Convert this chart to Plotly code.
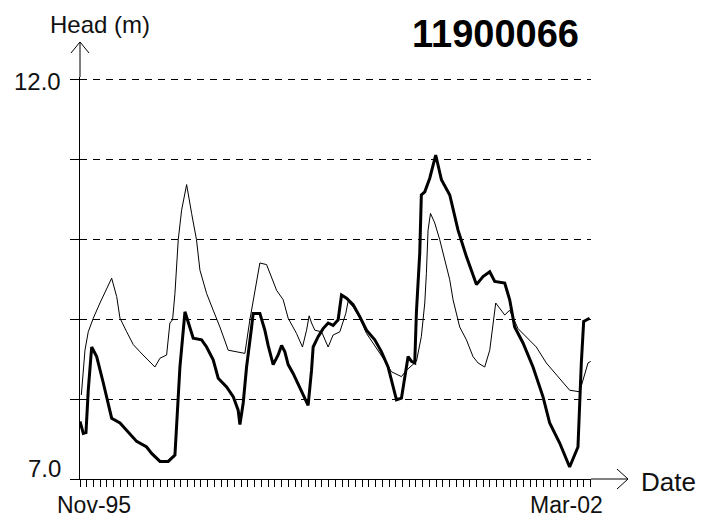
import plotly.graph_objects as go

# ---- data (x = months since Nov-1995) ----
OBS_MONTHS = [0, 0.49, 0.89, 1.23, 1.74, 2.48, 3.47, 4.71, 5.95, 7.18, 8.43, 9.92, 10.66, 11.90,
              13.13, 14.13, 14.38, 14.87, 15.62, 16.11, 16.85, 18.10, 18.84, 19.82, 20.57, 21.82,
              22.80, 23.54, 23.80, 24.29, 24.79, 25.54, 25.77, 26.77, 27.51, 28.00, 28.75, 29.49,
              30.00, 30.49, 30.98, 31.72, 32.72, 33.72, 33.95, 34.46, 34.70, 35.44, 36.18, 36.93,
              37.67, 38.42, 38.92, 39.67, 40.65, 41.64, 42.64, 43.87, 44.87, 45.85, 46.59, 47.10,
              47.84, 48.33, 48.83, 49.33, 49.82, 50.07, 50.56, 50.80, 51.31, 52.05, 52.94, 53.79,
              55.03, 56.26, 57.51, 59.00, 59.98, 60.98, 61.72, 63.21, 63.95, 64.69, 65.93, 67.42,
              68.90, 69.90, 71.39, 72.87, 74.11, 74.61, 74.96, 75.85]
OBS_HEAD = [7.72, 7.57, 7.58, 8.11, 8.65, 8.53, 8.20, 7.76, 7.70, 7.59, 7.47, 7.40, 7.32, 7.22,
            7.22, 7.30, 7.70, 8.40, 9.09, 8.95, 8.76, 8.74, 8.65, 8.49, 8.26, 8.15,
            8.03, 7.86, 7.68, 7.95, 8.40, 8.90, 9.07, 9.07, 8.86, 8.67, 8.43, 8.55,
            8.67, 8.59, 8.43, 8.32, 8.15, 7.97, 7.92, 8.36, 8.65, 8.78, 8.88, 8.95,
            8.92, 8.99, 9.30, 9.26, 9.18, 9.03, 8.86, 8.74, 8.59, 8.40, 8.15, 7.99,
            8.01, 8.28, 8.53, 8.47, 8.45, 9.09, 9.82, 10.55, 10.59, 10.76, 11.05, 10.74,
            10.55, 10.11, 9.78, 9.43, 9.53, 9.59, 9.47, 9.45, 9.24, 8.90, 8.70, 8.40,
            8.03, 7.70, 7.45, 7.15, 7.40, 8.45, 8.97, 9.01]

SIM_MONTHS = [0.2, 0.74, 1.23, 1.98, 2.97, 3.97, 4.71, 5.46, 5.95, 6.95, 7.93, 8.92, 9.92, 11.15,
              11.90, 12.89, 13.38, 13.78, 14.13, 14.62, 15.12, 15.87, 16.61, 17.34, 17.85, 18.84,
              19.82, 20.82, 22.06, 23.30, 24.54, 25.28, 26.03, 26.77, 27.77, 28.51, 29.25, 30.24,
              30.98, 32.22, 33.11, 33.72, 34.10, 34.46, 34.95, 35.95, 36.93, 37.67, 38.67, 39.56,
              39.90, 40.65, 41.64, 42.64, 43.87, 45.11, 46.36, 47.84, 48.59, 50.07, 50.80, 51.31,
              51.55, 51.80, 52.16, 52.80, 53.54, 54.28, 55.03, 55.52, 56.51, 57.51, 58.49, 59.24,
              60.23, 60.98, 61.47, 61.87, 63.21, 63.95, 65.19, 66.42, 67.91, 69.40, 71.39, 72.87,
              74.36, 74.96, 75.60, 76.0]
SIM_HEAD = [8.05, 8.61, 8.84, 9.01, 9.20, 9.38, 9.51, 9.28, 9.01, 8.84, 8.68, 8.59, 8.51, 8.40,
            8.51, 8.55, 8.95, 8.99, 9.32, 9.99, 10.36, 10.68, 10.32, 9.99, 9.61, 9.32,
            9.11, 8.90, 8.61, 8.59, 8.57, 8.99, 9.36, 9.70, 9.68, 9.53, 9.36, 9.24,
            9.01, 8.82, 8.65, 8.86, 9.04, 8.95, 8.86, 8.84, 8.65, 8.80, 8.84, 9.07,
            9.22, 9.15, 9.01, 8.82, 8.67, 8.51, 8.34, 8.28, 8.36, 8.47, 8.78, 9.20,
            9.57, 10.11, 10.32, 10.20, 9.99, 9.74, 9.49, 9.24, 8.90, 8.74, 8.53, 8.45,
            8.40, 8.61, 8.95, 9.20, 9.05, 9.11, 8.88, 8.78, 8.65, 8.45, 8.26, 8.11,
            8.09, 8.28, 8.45, 8.47]

X_TICK_VALS = [0, 76]
X_TICK_TEXT = ["Nov-95", "Mar-02"]
Y_TICK_VALS = [7, 12]
Y_TICK_TEXT = ["7.0", "12.0"]
Y_GRID_VALS = [7, 8, 9, 10, 11, 12]
MONTH_TICKS = list(range(X_TICK_VALS[0], X_TICK_VALS[-1] + 1))
TITLE = "11900066"
Y_LABEL = "Head (m)"
X_LABEL = "Date"

FONT = "Liberation Sans, Arial, sans-serif"
INK = "#111111"
PX_PER_MONTH = 511 / 76.05
PX_PER_M = 80.0

fig = go.Figure()
fig.add_trace(go.Scatter(x=SIM_MONTHS, y=SIM_HEAD, mode="lines",
                         line=dict(color="black", width=1), showlegend=False))
fig.add_trace(go.Scatter(x=OBS_MONTHS, y=OBS_HEAD, mode="lines",
                         line=dict(color="black", width=3), showlegend=False))

# comb of monthly tick marks under the date axis, and tick marks left of the head axis
fig.add_trace(go.Scatter(
    x=MONTH_TICKS, y=[Y_TICK_VALS[0]] * len(MONTH_TICKS), mode="markers",
    marker=dict(size=1, color="rgba(0,0,0,0)"), cliponaxis=False, hoverinfo="skip",
    showlegend=False,
    error_y=dict(type="constant", symmetric=False, value=0, valueminus=7 / PX_PER_M,
                 width=0, thickness=1, color="black")))
fig.add_trace(go.Scatter(
    x=[X_TICK_VALS[0]] * len(Y_GRID_VALS), y=Y_GRID_VALS, mode="markers",
    marker=dict(size=1, color="rgba(0,0,0,0)"), cliponaxis=False, hoverinfo="skip",
    showlegend=False,
    error_x=dict(type="constant", symmetric=False, value=0, valueminus=9 / PX_PER_MONTH,
                 width=0, thickness=1, color="black")))

# plot area: 80..591 px wide, 77..479 px tall (80 px per metre; 12.0 sits 2 px below the top)
fig.update_layout(
    width=719, height=522,
    margin=dict(l=80, r=128, t=77, b=43),
    paper_bgcolor="white", plot_bgcolor="white",
    font=dict(family=FONT, color=INK),
    xaxis=dict(range=[X_TICK_VALS[0], X_TICK_VALS[-1] + 0.05],
               tickmode="linear", tick0=0, dtick=1,
               ticks="outside", ticklen=7, tickwidth=1, tickcolor="black",
               ticktext=[], showticklabels=False,
               showgrid=False, zeroline=False,
               showline=True, linecolor="black", linewidth=1),
    yaxis=dict(range=[Y_TICK_VALS[0], Y_TICK_VALS[-1] + 0.025],
               tickmode="array", tickvals=Y_GRID_VALS,
               ticks="outside", ticklen=9, tickwidth=1, tickcolor="black",
               showticklabels=False, zeroline=False,
               showgrid=True, gridcolor="black", gridwidth=1, griddash="7px,6px",
               showline=True, linecolor="black", linewidth=1),
)

# axis extensions with arrowheads (paper coordinates)
H = 402.0
W = 511.0
line = dict(color="black", width=1)
fig.add_shape(type="line", xref="paper", yref="paper", x0=0, x1=0, y0=1, y1=437 / H, line=line)
fig.add_shape(type="line", xref="paper", yref="paper", x0=-9 / W, x1=0, y0=426 / H, y1=437 / H, line=line)
fig.add_shape(type="line", xref="paper", yref="paper", x0=9 / W, x1=0, y0=426 / H, y1=437 / H, line=line)
fig.add_shape(type="line", xref="paper", yref="paper", x0=1, x1=548 / W, y0=0, y1=0, line=line)
fig.add_shape(type="line", xref="paper", yref="paper", x0=537 / W, x1=548 / W, y0=10 / H, y1=0, line=line)
fig.add_shape(type="line", xref="paper", yref="paper", x0=537 / W, x1=548 / W, y0=-10 / H, y1=0, line=line)

# title and axis names
fig.add_annotation(text=TITLE, xref="paper", yref="paper", x=415 / W, y=445 / H,
                   xanchor="center", yanchor="middle", showarrow=False,
                   font=dict(family=FONT, size=38, color="black", weight="bold"))
fig.add_annotation(text=Y_LABEL, xref="paper", yref="paper", x=20 / W, y=454 / H,
                   xanchor="center", yanchor="middle", showarrow=False,
                   font=dict(family=FONT, size=24, color=INK))
fig.add_annotation(text=X_LABEL, xref="paper", yref="paper", x=588 / W, y=-3 / H,
                   xanchor="center", yanchor="middle", showarrow=False,
                   font=dict(family=FONT, size=26, color=INK))

# tick labels
x_shifts = [14, -24]
for v, t, s in zip(X_TICK_VALS, X_TICK_TEXT, x_shifts):
    fig.add_annotation(text=t, x=v, xref="x", y=-26 / H, yref="paper", xshift=s,
                       xanchor="center", yanchor="middle", showarrow=False,
                       font=dict(family=FONT, size=23, color=INK))
y_shifts = [11, -2]
for v, t, s in zip(Y_TICK_VALS, Y_TICK_TEXT, y_shifts):
    fig.add_annotation(text=t, x=0, xref="paper", y=v, yref="y", xshift=-17, yshift=s,
                       xanchor="right", yanchor="middle", showarrow=False,
                       font=dict(family=FONT, size=24, color=INK))

fig.write_html("out.html")
